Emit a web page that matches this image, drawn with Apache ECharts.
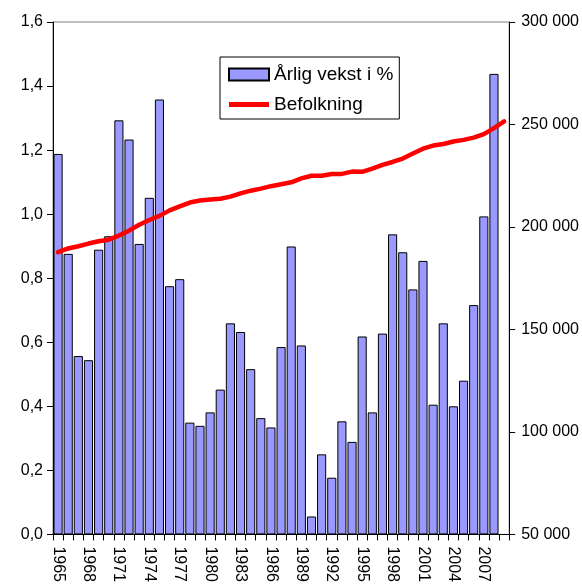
<!DOCTYPE html>
<html>
<head>
<meta charset="utf-8">
<script src="https://cdn.jsdelivr.net/npm/echarts@6/dist/echarts.min.js"></script>
<style>html,body{margin:0;padding:0;background:#fff}#c{width:582px;height:585px}</style>
</head>
<body>
<div id="c"></div>
<script>
const years = [];
for (let y = 1965; y <= 2009; y++) years.push(String(y));
const growthPct = [1.188,0.876,0.557,0.544,0.889,0.931,1.293,1.233,0.907,1.051,
  1.358,0.775,0.797,0.349,0.339,0.381,0.452,0.659,0.632,0.516,
  0.363,0.334,0.585,0.899,0.590,0.056,0.250,0.177,0.353,0.289,
  0.618,0.381,0.627,0.937,0.881,0.765,0.854,0.405,0.659,0.400,
  0.480,0.716,0.993,1.438];
const population = [187700,189500,190600,191900,193000,193800,195800,198200,201100,203400,
  205400,208100,210000,211900,212900,213400,213800,214800,216400,217700,
  218700,219900,220800,221800,223700,225000,225000,225800,225900,227000,
  226900,228500,230300,231700,233400,235800,238200,239700,240500,241700,
  242500,243600,245300,248200,251500];
const seriesNames = ['Årlig vekst i %', 'Befolkning'];

const font = 'Liberation Sans, Arial, sans-serif';
const chart = echarts.init(document.getElementById('c'), null, {renderer: 'canvas'});
chart.setOption({
  animation: false,
  backgroundColor: '#fff',
  grid: {left: 53, right: 72, top: 22, bottom: 46, show: true, borderColor: '#808080', borderWidth: 1, backgroundColor: '#fff'},
  legend: {
    orient: 'vertical', left: 220, top: 57,
    backgroundColor: '#fff', borderColor: '#000', borderWidth: 1,
    padding: [8, 6, 5, 8], itemGap: 11, itemWidth: 40, itemHeight: 12,
    textStyle: {fontFamily: font, fontSize: 19, color: '#000'},
    data: [
      {name: seriesNames[0], icon: 'rect'},
      {name: seriesNames[1], icon: 'path://M0,0H40V5H0Z', itemStyle: {color: '#FF0000', borderWidth: 0}}
    ]
  },
  xAxis: {
    type: 'category', data: years, boundaryGap: true,
    axisLine: {lineStyle: {color: '#000', width: 1}},
    axisTick: {show: true, interval: 0, length: 6, lineStyle: {color: '#000'}},
    axisLabel: {interval: 2, rotate: -90, margin: 12, color: '#000', fontFamily: font, fontSize: 16},
    splitLine: {show: false}
  },
  yAxis: [{
    type: 'value', min: 0, max: 1.6, interval: 0.2, position: 'left',
    axisLine: {show: true, lineStyle: {color: '#000'}},
    axisTick: {show: true, length: 6, lineStyle: {color: '#000'}},
    axisLabel: {margin: 10, color: '#000', fontFamily: font, fontSize: 16,
      formatter: v => v.toFixed(1).replace('.', ',')},
    splitLine: {show: false}
  }, {
    type: 'value', min: 50000, max: 300000, interval: 50000, position: 'right',
    axisLine: {show: true, lineStyle: {color: '#000'}},
    axisTick: {show: true, length: 6, lineStyle: {color: '#000'}},
    axisLabel: {margin: 12, color: '#000', fontFamily: font, fontSize: 16,
      formatter: v => String(v).replace(/\B(?=(\d{3})+(?!\d))/g, ' ')},
    splitLine: {show: false}
  }],
  series: [{
    name: seriesNames[0], type: 'bar', yAxisIndex: 0, data: growthPct,
    barCategoryGap: '10%',
    itemStyle: {color: '#9999FF', borderColor: '#000', borderWidth: 1}
  }, {
    name: seriesNames[1], type: 'line', yAxisIndex: 1, data: population,
    symbol: 'none', smooth: false, z: 5,
    lineStyle: {color: '#FF0000', width: 4.5, cap: 'round', join: 'round'},
    itemStyle: {color: '#FF0000'}
  }]
});
</script>
</body>
</html>
